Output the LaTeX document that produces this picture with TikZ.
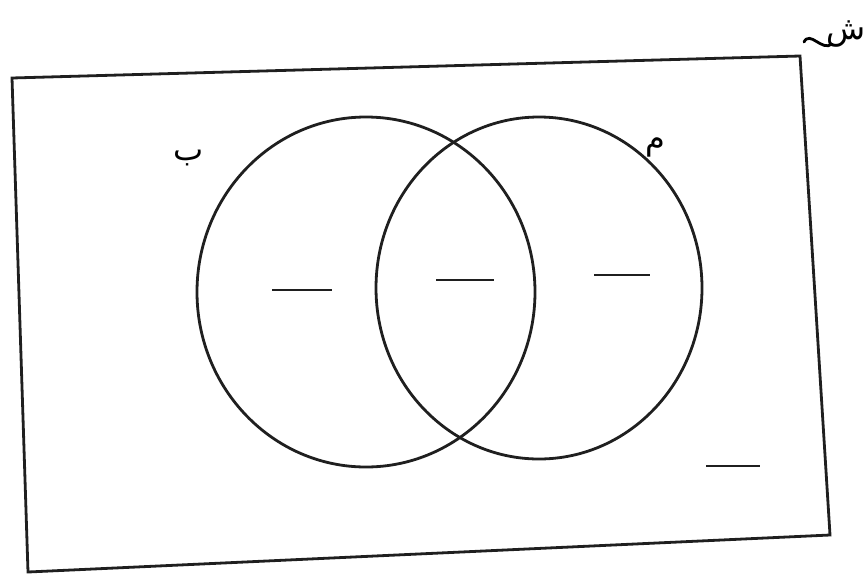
\documentclass[tikz,border=0pt]{standalone}
\usepackage{fontspec}
\usetikzlibrary{shapes.geometric}
\newfontfamily\arabicfont[Script=Arabic]{DejaVu Sans}
\TeXXeTstate=1
\begin{document}
\begin{tikzpicture}[x=1pt,y=-1pt,
  edge/.style={line width=2.8pt,draw=black!88},
  blank/.style={line width=2.4pt,draw=black!88},
  lbl/.style={font=\arabicfont\fontsize{32}{36}\selectfont,inner sep=0pt}]
\useasboundingbox (0,0) rectangle (866,584);
% universal set
\coordinate (tl) at (12,78);
\coordinate (tr) at (800,56);
\coordinate (br) at (830,535);
\coordinate (bl) at (28,572);
\draw[edge] (tl) -- (tr) -- (br) -- (bl) -- cycle;
% circles
\node[edge,ellipse,minimum width=338pt,minimum height=350pt,inner sep=0pt] (B) at (366,292) {};
\node[edge,ellipse,minimum width=326pt,minimum height=342pt,inner sep=0pt] (M) at (539,288) {};
% blanks
\coordinate (d1a) at (272,290); \coordinate (d1b) at (332,290);
\coordinate (d2a) at (436,280); \coordinate (d2b) at (494,280);
\coordinate (d3a) at (594,275); \coordinate (d3b) at (650,275);
\coordinate (d4a) at (706,466); \coordinate (d4b) at (760,466);
\draw[blank] (d1a) -- (d1b);
\draw[blank] (d2a) -- (d2b);
\draw[blank] (d3a) -- (d3b);
\draw[blank] (d4a) -- (d4b);
% labels
\node[lbl] (lb) at (189,158) {\beginR ب\endR};
\node[lbl] (lm) at (655,147) {\beginR م\endR};
\node[lbl] (ls) at (846,34) {\beginR ش\endR};
\coordinate (t1) at (804,42);
\coordinate (t2) at (832,44);
\draw[line width=2.8pt,line cap=round] (t1) .. controls (810,30) and (822,52) .. (t2);
\end{tikzpicture}
\end{document}
